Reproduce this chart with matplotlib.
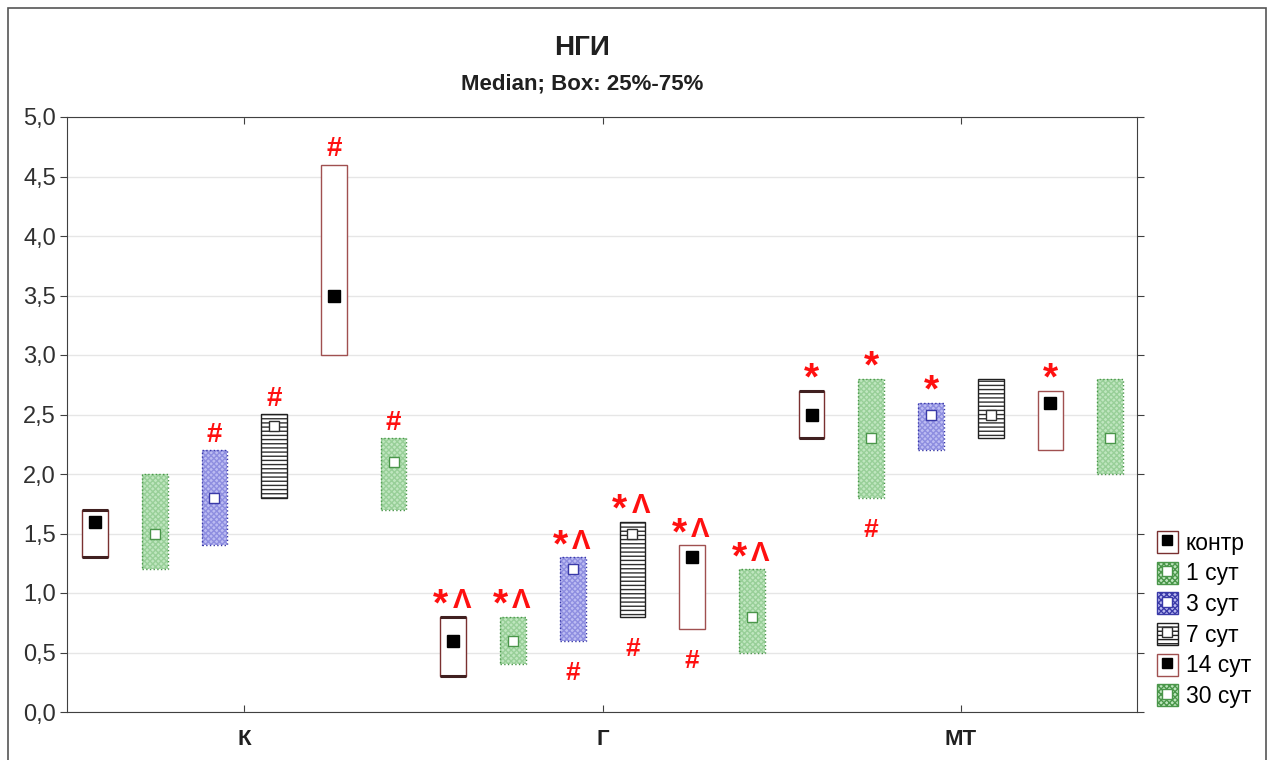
import numpy as np
import matplotlib.pyplot as plt
from matplotlib.patches import Patch, Rectangle
from matplotlib.lines import Line2D

plt.rcParams['font.family'] = ['Liberation Sans', 'DejaVu Sans']

# Группы и сроки
groups = ['К', 'Г', 'МТ']
series = ['контр', '1 сут', '3 сут', '7 сут', '14 сут', '30 сут']

# Квартили и медианы: строки - группы, столбцы - сроки
q1 = [[1.3, 1.2, 1.4, 1.8, 3.0, 1.7],
      [0.3, 0.4, 0.6, 0.8, 0.7, 0.5],
      [2.3, 1.8, 2.2, 2.3, 2.2, 2.0]]
q3 = [[1.7, 2.0, 2.2, 2.5, 4.6, 2.3],
      [0.8, 0.8, 1.3, 1.6, 1.4, 1.2],
      [2.7, 2.8, 2.6, 2.8, 2.7, 2.8]]
med = [[1.6, 1.5, 1.8, 2.4, 3.5, 2.1],
       [0.6, 0.6, 1.2, 1.5, 1.3, 0.8],
       [2.5, 2.3, 2.5, 2.5, 2.6, 2.3]]

# Значки значимости над и под боксами
marks_top = [['', '', '#', '#', '#', '#'],
             ['*^', '*^', '*^', '*^', '*^', '*^'],
             ['*', '*', '*', '', '*', '']]
marks_bot = [['', '', '', '', '', ''],
             ['', '', '#', '#', '#', ''],
             ['', '#', '', '', '', '']]

# оформление сроков
face = ['white', '#bfe6bf', '#bcbcf2', 'white', 'white', '#bfe6bf']
edge = ['#7a3030', '#4a964a', '#3a3aa8', '#202020', '#a05050', '#4a964a']
hatch = [None, 'xxxxxx', 'xxxxxx', '----', None, 'xxxxxx']
hcol = [None, '#98cf98', '#8e8ee0', '#303030', None, '#98cf98']
mface = ['black', 'white', 'white', 'white', 'black', 'white']
medge = ['black', '#4a964a', '#3a3aa8', '#303030', 'black', '#4a964a']

RED = '#ff1010'


def star(x, y):
    ax.text(x, y, '*', color=RED, fontsize=28, fontweight='bold',
            ha='center', va='bottom', zorder=5)


fig = plt.figure(figsize=(12.72, 7.6), dpi=100)
ax = fig.add_axes([67 / 1272, 48 / 760, (1137 - 67) / 1272, (712 - 117) / 760])

w = 0.43
for g in range(len(groups)):
    for s in range(len(series)):
        x = g * 6 + s
        lo, hi, m = q1[g][s], q3[g][s], med[g][s]
        if hatch[s]:
            ax.bar(x, hi - lo, bottom=lo, width=w, color=face[s],
                   edgecolor=hcol[s], hatch=hatch[s], linewidth=0, zorder=2)
            ax.bar(x, hi - lo, bottom=lo, width=w, fill=False,
                   edgecolor=edge[s], linewidth=1.0, linestyle=':' if s != 3 else '-', zorder=3)
        else:
            ax.bar(x, hi - lo, bottom=lo, width=w, color=face[s],
                   edgecolor=edge[s], linewidth=1.0, zorder=2)
        if s == 0:
            ax.hlines([lo, hi], x - w / 2, x + w / 2, color='#402020', lw=2.2, zorder=3)
        ax.plot(x, m, 's', ms=8 if mface[s] == 'black' else 7, mfc=mface[s],
                mec=medge[s], mew=1.0, zorder=4)
        mk = marks_top[g][s]
        if mk == '#':
            ax.text(x, hi + 0.02, '#', color=RED, fontsize=20, fontweight='bold',
                    ha='center', va='bottom', zorder=5)
        elif mk == '*':
            star(x, hi - 0.06)
        elif mk == '*^':
            star(x - 0.21, hi - 0.06)
            ax.text(x + 0.14, hi + 0.02, 'Λ', color=RED, fontsize=20, fontweight='bold',
                    ha='center', va='bottom', zorder=5)
        if marks_bot[g][s]:
            ax.text(x, lo - 0.17, marks_bot[g][s], color=RED,
                    fontsize=19, fontweight='bold', ha='center', va='top', zorder=5)

ax.set_xlim(-0.47, 17.45)
ax.set_ylim(0, 5.0)
ax.set_yticks(np.arange(0, 5.01, 0.5))
ax.set_yticklabels([f'{v:.1f}'.replace('.', ',') for v in np.arange(0, 5.01, 0.5)],
                   fontsize=17, color='#303030')
ax.set_xticks([2.5, 8.5, 14.5])
ax.set_xticklabels(groups, fontsize=16, fontweight='bold', color='#202020')
ax.tick_params(axis='y', direction='out', length=5, right=True, color='#404040', pad=3)
ax.tick_params(axis='x', direction='in', length=5, top=True, color='#404040', pad=12)
ax.grid(axis='y', color='#e6e6e6', lw=1.0, zorder=0)
ax.set_axisbelow(True)
for sp in ax.spines.values():
    sp.set_color('#404040')

fig.text(582 / 1272, 1 - 48 / 760, 'НГИ', ha='center', va='center',
         fontsize=20, fontweight='bold', color='#202020')
fig.text(582 / 1272, 1 - 84 / 760, 'Median; Box: 25%-75%', ha='center', va='center',
         fontsize=16, fontweight='bold', color='#202020')

# рамка рисунка
fig.patches.append(Rectangle((8 / 1272, -10 / 760), 1258 / 1272, 762 / 760, transform=fig.transFigure,
                             fill=False, edgecolor='#555555', lw=1.2))

handles = []
for s in range(len(series)):
    handles.append((Patch(facecolor=face[s], edgecolor=edge[s], hatch=hatch[s], lw=1.0),
                    Line2D([], [], marker='s', ls='', ms=7, mfc=mface[s], mec=medge[s])))
leg = fig.legend(handles, series, loc='lower left', bbox_to_anchor=(1141 / 1272, 36 / 760),
                 frameon=False, fontsize=16.5, handlelength=0.9, handleheight=1.1,
                 handletextpad=0.35, labelspacing=0.3, borderpad=0.2)

fig.savefig('out.png', dpi=100)
